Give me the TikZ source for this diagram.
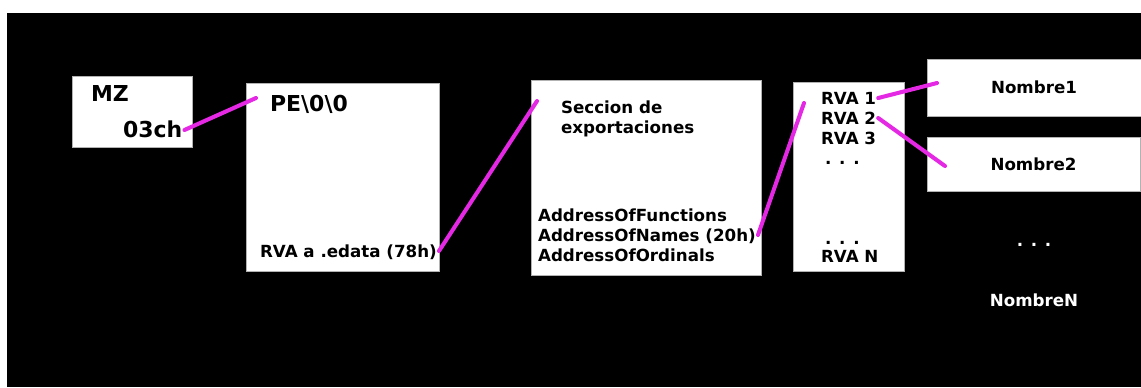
\documentclass[tikz,border=0pt]{standalone}
\usepackage{fontspec}
\setmainfont{DejaVu Sans}
\definecolor{enlace}{RGB}{228,40,228}

\begin{document}
\begin{tikzpicture}[x=0.02cm, y=-0.02cm,
  box/.style = {draw=gray!60, fill=white, line width=0.4pt, inner sep=0pt},
  lbl/.style = {font=\bfseries\fontsize{9.5}{11}\selectfont, inner sep=1pt, text height=7pt, text depth=0pt, anchor=west},
  big/.style = {lbl, font=\bfseries\fontsize{12.5}{14}\selectfont, text height=9pt},
  link/.style = {draw=enlace, line width=2.3pt, line cap=round}]
  \useasboundingbox (0,0) rectangle (1141,387);
  \fill[white] (0,0) rectangle (1141,387);
  \fill[black] (7,13) rectangle (1141,387);
  % cajas
  \node[box, minimum width=2.4cm, minimum height=1.42cm] (mzbox) at (132,111.5) {};
  \node[box, minimum width=3.86cm, minimum height=3.76cm] (pebox) at (342.5,177) {};
  \node[box, minimum width=4.6cm, minimum height=3.9cm] (expbox) at (646,177.5) {};
  \node[box, minimum width=2.22cm, minimum height=3.78cm] (rvabox) at (848.5,176.5) {};
  \node[box, font=\bfseries\fontsize{9.5}{11}\selectfont, minimum width=4.28cm, minimum height=1.14cm] (n1) at (1034,87.5) {Nombre1};
  \node[box, font=\bfseries\fontsize{9.5}{11}\selectfont, minimum width=4.26cm, minimum height=1.08cm] (n2) at (1033.5,164) {Nombre2};
  % textos
  \node[big] (mz) at (89,93.5) {MZ};
  \node[big] (ch) at (121,130) {03ch};
  \node[big] (pe) at (268,104) {PE\textbackslash 0\textbackslash 0};
  \node[lbl] (edata) at (258,251) {RVA a .edata (78h)};
  \node[lbl] (sec1) at (559,107) {Seccion de};
  \node[lbl] (sec2) at (559,127) {exportaciones};
  \node[lbl] (funcs) at (536,215) {AddressOfFunctions};
  \node[lbl] (names) at (536,235) {AddressOfNames (20h)};
  \node[lbl] (ords) at (536,255) {AddressOfOrdinals};
  \node[lbl] (rva1) at (819,98) {RVA 1};
  \node[lbl] (rva2) at (819,118) {RVA 2};
  \node[lbl] (rva3) at (819,138) {RVA 3};
  \node[lbl] (dots1) at (823,158) {. . .};
  \node[lbl] (dots2) at (823,238) {. . .};
  \node[lbl] (rvan) at (819,256) {RVA N};
  \node[lbl, white, anchor=center] (dots3) at (1034,240) {. . .};
  \node[lbl, white, anchor=center] (nn) at (1034,300) {NombreN};
  % enlaces
  \coordinate (pein) at (256,98);
  \coordinate (secin) at (537,101);
  \coordinate (rvain) at (804,103);
  \coordinate (n1in) at (937,83);
  \coordinate (n2in) at (945,166);
  \draw[link] (ch.east) -- (pein);
  \draw[link] (edata.east) -- (secin);
  \draw[link] (names.east) -- (rvain);
  \draw[link] (rva1.east) -- (n1in);
  \draw[link] (rva2.east) -- (n2in);
\end{tikzpicture}
\end{document}
